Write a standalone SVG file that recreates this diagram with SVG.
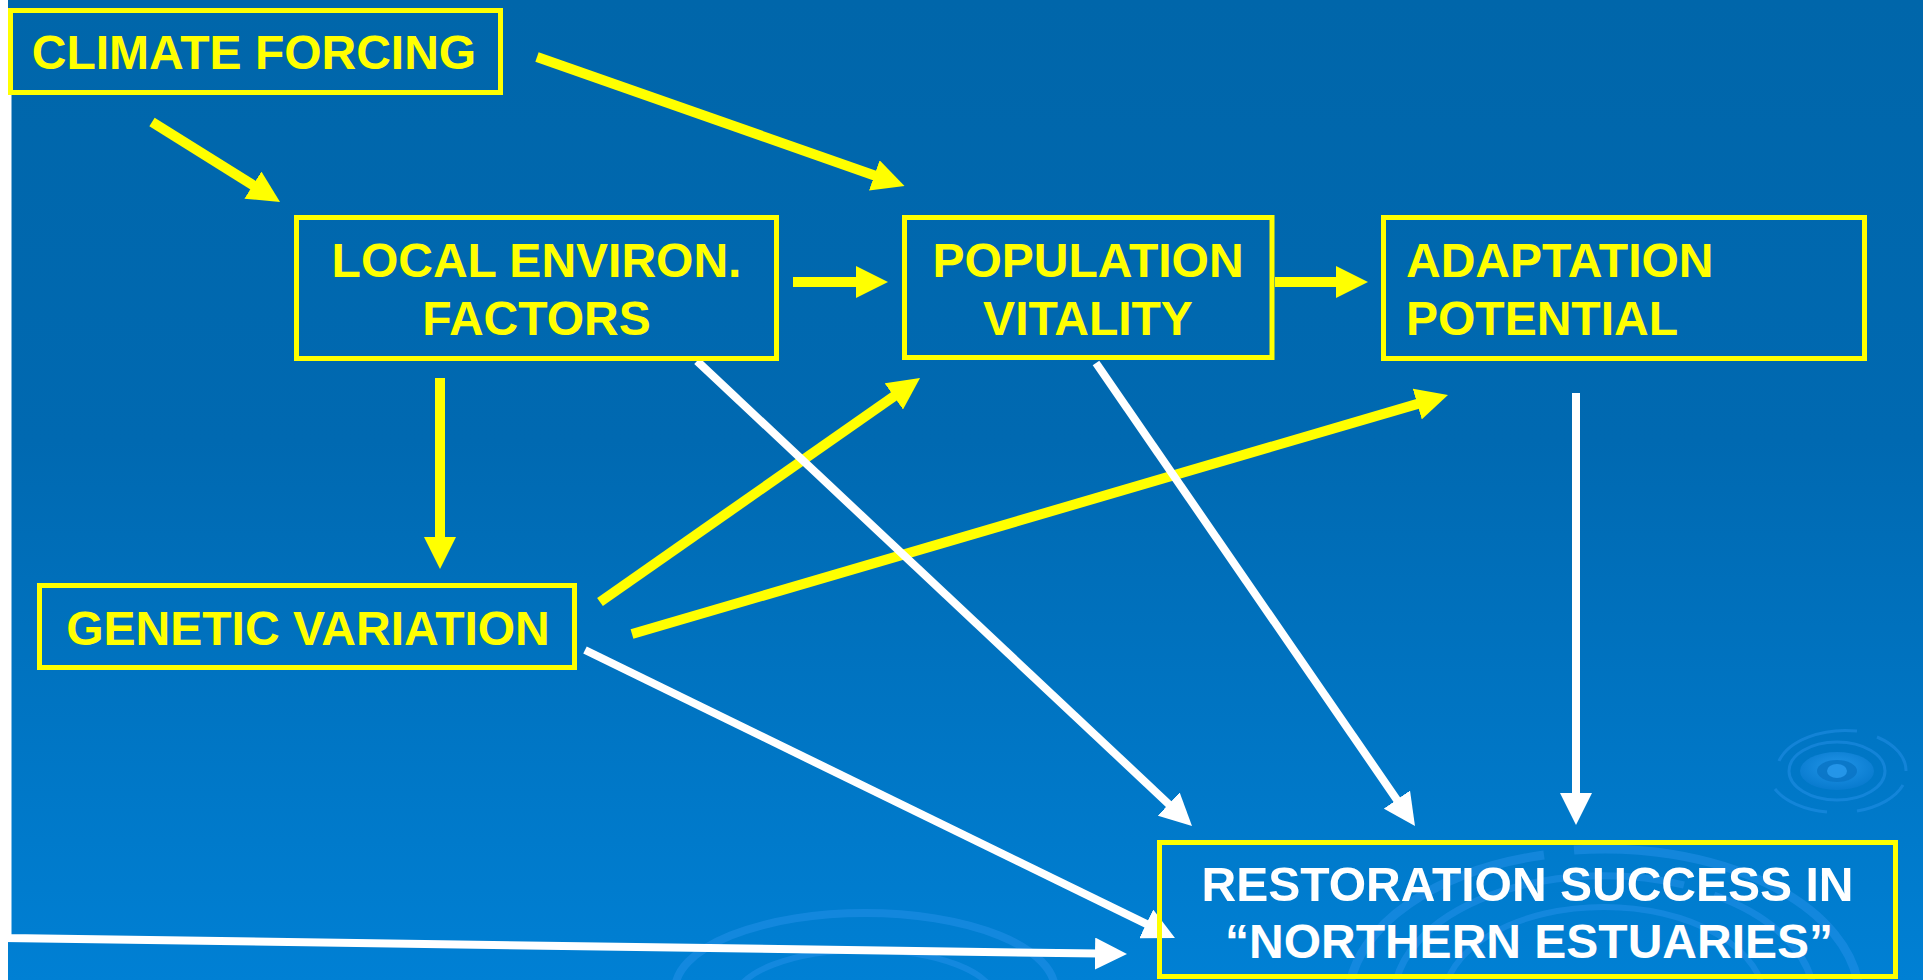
<svg xmlns="http://www.w3.org/2000/svg" width="1923" height="980" viewBox="0 0 1923 980">
  <defs>
    <linearGradient id="bg" x1="0" y1="0" x2="0" y2="1">
      <stop offset="0" stop-color="#0066AA"/>
      <stop offset="0.45" stop-color="#0069B1"/>
      <stop offset="1" stop-color="#0080D4"/>
    </linearGradient>
    <radialGradient id="rippleCore" cx="0.5" cy="0.4" r="0.6">
      <stop offset="0" stop-color="#2A9CF0"/>
      <stop offset="1" stop-color="#0A7BD0"/>
    </radialGradient>
    <marker id="headY" markerUnits="userSpaceOnUse" markerWidth="32" markerHeight="32" refX="4" refY="16" orient="auto">
      <path d="M0,0 L32,16 L0,32 Z" fill="#FFFF00"/>
    </marker>
    <marker id="headW" markerUnits="userSpaceOnUse" markerWidth="32" markerHeight="32" refX="4" refY="16" orient="auto">
      <path d="M0,0 L32,16 L0,32 Z" fill="#FFFFFF"/>
    </marker>
    <style>
      .box { fill: none; stroke: #FFFF00; stroke-width: 5; }
      .lbl { font-family: "Liberation Sans", Arial, Helvetica, sans-serif; font-weight: bold; font-size: 48px; }
      .yl { fill: #FFFF00; }
      .wl { fill: #FFFFFF; }
      .cy { fill: none; stroke: #FFFF00; stroke-width: 10; stroke-linecap: butt; marker-end: url(#headY); }
      .cw { fill: none; stroke: #FFFFFF; stroke-width: 8; stroke-linecap: butt; marker-end: url(#headW); }
      .rip { fill: none; stroke: #2B95EE; stroke-opacity: 0.45; }
    </style>
  </defs>

  <!-- page background -->
  <rect x="0" y="0" width="1923" height="980" fill="#FFFFFF"/>
  <rect x="8" y="0" width="1915" height="980" fill="url(#bg)"/>

  <!-- water ripple ornaments -->
  <g id="ripples">
    <g transform="translate(1837,771)">
      <path class="rip" stroke-width="3" d="M-58,-10 A69,41 0 0 1 20,-40 M40,-34 A69,41 0 0 1 69,0 M66,14 A69,41 0 0 1 20,40 M-10,41 A69,41 0 0 1 -62,18"/>
      <ellipse class="rip" stroke-width="3" rx="48" ry="29"/>
      <ellipse rx="37" ry="19" fill="url(#rippleCore)" opacity="0.8"/>
      <ellipse rx="20" ry="11" fill="#0A76C6" opacity="0.9"/>
      <ellipse rx="10" ry="7" fill="#2A9CF0" opacity="0.8"/>
    </g>
    <g transform="translate(1604,1000)">
      <path class="rip" stroke-width="9" d="M-255,-10 A255,150 0 0 1 -60,-145 M-30,-150 A255,150 0 0 1 255,-10"/>
      <path class="rip" stroke-width="7" d="M-210,-5 A210,123 0 0 1 80,-115 M110,-105 A210,123 0 0 1 210,-5"/>
      <path class="rip" stroke-width="6" d="M-160,0 A160,93 0 0 1 160,0"/>
    </g>
    <g transform="translate(865,1010)">
      <path class="rip" stroke-width="8" d="M-190,-20 A190,77 0 0 1 190,-20"/>
      <path class="rip" stroke-width="6" d="M-130,-10 A130,50 0 0 1 130,-10"/>
    </g>
  </g>

  <!-- connectors -->
  <g id="connectors">
    <line id="e-climate-local" class="cy" x1="152" y1="122" x2="256.3" y2="187.2"/>
    <line id="e-climate-population" class="cy" x1="537" y1="57" x2="878.1" y2="176.7"/>
    <line id="e-local-population" class="cy" x1="793" y1="282" x2="860" y2="282"/>
    <line id="e-population-adaptation" class="cy" x1="1275" y1="282" x2="1340" y2="282"/>
    <line id="e-local-genetic" class="cy" x1="440" y1="378" x2="440" y2="541"/>
    <line id="e-genetic-population" class="cy" x1="600" y1="602" x2="897.1" y2="394.1"/>
    <line id="e-genetic-adaptation" class="cy" x1="632" y1="634" x2="1421.1" y2="402.9"/>

    <line id="e-local-restoration" class="cw" x1="697" y1="361" x2="1171.6" y2="806.8"/>
    <line id="e-population-restoration" class="cw" x1="1096" y1="363" x2="1399.1" y2="802.9"/>
    <line id="e-adaptation-restoration" class="cw" stroke-width="9" x1="1576" y1="393" x2="1576" y2="797"/>
    <line id="e-genetic-restoration" class="cw" x1="585" y1="650" x2="1149.8" y2="925.7"/>
    <path id="e-climate-restoration" class="cw" stroke-width="11" stroke-linejoin="miter" d="M7.5,95 L7.5,938 L1099,953.6"/>
  </g>
  <!-- page margin drawn over the edge connector -->
  <rect x="0" y="0" width="8" height="980" fill="#FFFFFF"/>

  <!-- nodes -->
  <g id="climate">
    <rect class="box" x="10.5" y="10.5" width="490" height="82"/>
    <text class="lbl yl" x="254" y="69" text-anchor="middle">CLIMATE FORCING</text>
  </g>
  <g id="local">
    <rect class="box" x="296.5" y="217.5" width="480" height="141"/>
    <text class="lbl yl" x="536.5" y="277" text-anchor="middle">LOCAL ENVIRON.</text>
    <text class="lbl yl" x="536.5" y="335" text-anchor="middle">FACTORS</text>
  </g>
  <g id="population">
    <rect class="box" x="904.5" y="217.5" width="367.5" height="140"/>
    <text class="lbl yl" x="1088" y="277" text-anchor="middle">POPULATION</text>
    <text class="lbl yl" x="1088" y="335" text-anchor="middle">VITALITY</text>
  </g>
  <g id="adaptation">
    <rect class="box" x="1383.5" y="217.5" width="481" height="141"/>
    <text class="lbl yl" x="1406" y="277">ADAPTATION</text>
    <text class="lbl yl" x="1406" y="335">POTENTIAL</text>
  </g>
  <g id="genetic">
    <rect class="box" x="39.5" y="585.5" width="535" height="82"/>
    <text class="lbl yl" x="308" y="645" text-anchor="middle">GENETIC VARIATION</text>
  </g>
  <g id="restoration">
    <rect class="box" x="1159.5" y="842.5" width="736" height="134"/>
    <text class="lbl wl" x="1527.5" y="901" text-anchor="middle" textLength="652" lengthAdjust="spacingAndGlyphs">RESTORATION SUCCESS IN</text>
    <text class="lbl wl" x="1529" y="958" text-anchor="middle">“NORTHERN ESTUARIES”</text>
  </g>
</svg>
